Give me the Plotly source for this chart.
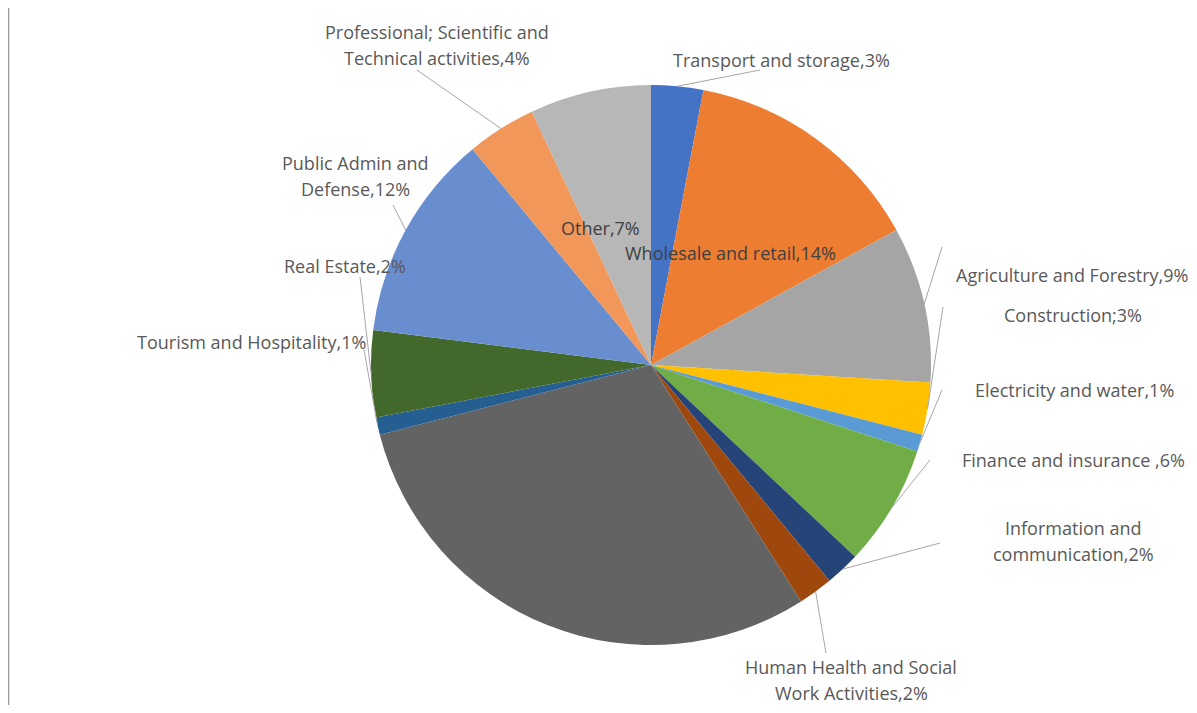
import math
import plotly.graph_objects as go

# ---------------- data ----------------
categories = [
    "Transport and storage",
    "Wholesale and retail",
    "Agriculture and Forestry",
    "Construction",
    "Electricity and water",
    "Finance and insurance ",
    "Information and communication",
    "Human Health and Social Work Activities",
    "Unlabelled sector",
    "Tourism and Hospitality",
    "Real Estate",
    "Public Admin and Defense",
    "Professional; Scientific and Technical activities",
    "Other",
]
# slice shares as drawn (estimated from the arcs)
values = [3, 14, 9, 3, 1, 7, 2, 2, 30, 1, 5, 12, 4, 7]
# percentages printed in the data labels
label_pct = [3, 14, 9, 3, 1, 6, 2, 2, None, 1, 2, 12, 4, 7]
label_sep = [",", ",", ",", ";", ",", ",", ",", ",", ",", ",", ",", ",", ",", ","]

colors = ["#4472C4", "#ED7D31", "#A5A5A5", "#FFC000", "#5B9BD5", "#70AD47",
          "#264478", "#9E480E", "#636363", "#255E91", "#43682B", "#698ED0",
          "#F1975A", "#B7B7B7"]

# ---------------- layout constants (page pixels) ----------------
PAGE_MARGIN = 8                      # browser body margin
W, H = 1197 - 2 * PAGE_MARGIN, 713 - 2 * PAGE_MARGIN
CX, CY, R = 651, 365, 280
FONT = "Open Sans"
FS = 18
TXT = "#595959"

# label centre (page px) per slice
label_pos = {0: (781, 60), 1: (730, 253), 2: (1072, 275), 3: (1073, 315),
             4: (1074, 390), 5: (1073, 460), 6: (1073, 528), 7: (851, 667),
             9: (251, 342), 10: (345, 266), 11: (355, 163), 12: (437, 32),
             13: (600, 228)}
# wrap after this word
wrap_after = {6: "and", 7: "Social", 11: "and", 12: "and"}
# leader line start (page px); end is computed on the slice edge
leader_start = {0: (760, 70), 2: (942, 247), 3: (943, 307), 4: (942, 390),
                5: (930, 460), 6: (940, 543), 7: (826, 653), 9: (364, 350),
                10: (360, 277), 11: (393, 205), 12: (417, 70)}
LINE_GAP = 26


def px(x):
    return (x - PAGE_MARGIN) / W


def py(y):
    return 1 - (y - PAGE_MARGIN) / H


fig = go.Figure(go.Pie(
    labels=categories,
    values=values,
    sort=False,
    direction="clockwise",
    rotation=0,
    marker=dict(colors=colors, line=dict(width=0)),
    textinfo="none",
    hoverinfo="label+percent",
    showlegend=False,
    domain=dict(x=[px(CX - R), px(CX + R)], y=[py(CY + R), py(CY - R)]),
))

total = sum(values)
annotations = []
shapes = []
cum = 0
for i, v in enumerate(values):
    mid = 2 * math.pi * (cum + v / 2) / total
    cum += v
    ex = CX + R * math.sin(mid)
    ey = CY - R * math.cos(mid)
    if i in leader_start:
        sx, sy = leader_start[i]
        shapes.append(dict(type="line", xref="paper", yref="paper",
                           x0=px(sx), y0=py(sy), x1=px(ex), y1=py(ey),
                           line=dict(color="#a6a6a6", width=1)))
    if i in label_pos and label_pct[i] is not None:
        full = f"{categories[i]}{label_sep[i]}{label_pct[i]}%"
        if i in wrap_after:
            key = " " + wrap_after[i] + " "
            k = full.index(key) + len(key) - 1
            lines = [full[:k], full[k + 1:]]
        else:
            lines = [full]
        lx, ly = label_pos[i]
        for j, t in enumerate(lines):
            annotations.append(dict(
                x=px(lx), y=py(ly + j * LINE_GAP), xref="paper", yref="paper",
                text=t, showarrow=False, xanchor="center", yanchor="middle",
                font=dict(family=FONT, size=FS,
                          color=TXT if i not in (1, 13) else "#404040"),
            ))

# chart frame edge on the left
shapes.append(dict(type="line", xref="paper", yref="paper",
                   x0=px(8.5), x1=px(8.5), y0=py(7), y1=0,
                   line=dict(color="#9a9a9a", width=1.5)))

fig.update_layout(
    width=W, height=H,
    margin=dict(l=0, r=0, t=0, b=0),
    paper_bgcolor="white",
    plot_bgcolor="white",
    annotations=annotations,
    shapes=shapes,
)

fig.write_html("out.html")
